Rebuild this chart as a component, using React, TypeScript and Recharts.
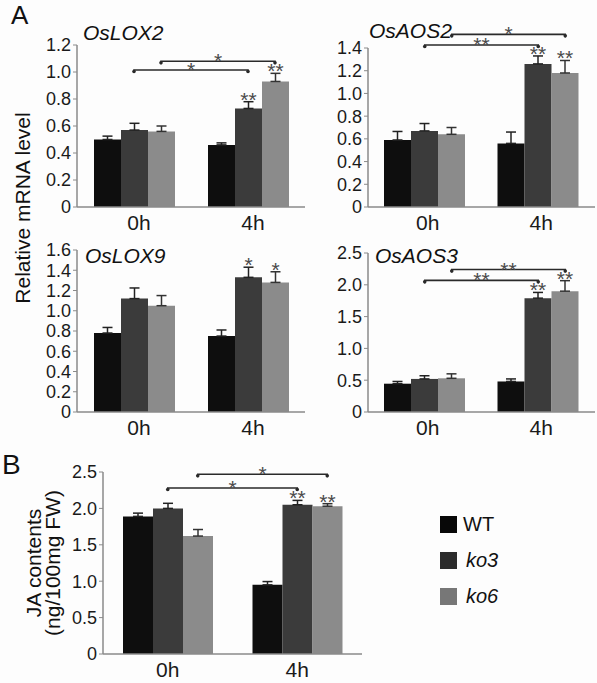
import { BarChart, Bar, XAxis, YAxis, ErrorBar, LabelList, ReferenceLine } from 'recharts';

const times = ['0h', '4h'];

// OsLOX2
const lox2Wt = [0.5, 0.46];
const lox2WtErr = [0.025, 0.015];
const lox2Ko3 = [0.57, 0.73];
const lox2Ko3Err = [0.05, 0.05];
const lox2Ko6 = [0.56, 0.93];
const lox2Ko6Err = [0.04, 0.06];
const lox2Ko3Sig = ['', '**'];
const lox2Ko6Sig = ['', '**'];
const lox2Ticks = [0, 0.2, 0.4, 0.6, 0.8, 1.0, 1.2];

// OsAOS2
const aos2Wt = [0.59, 0.56];
const aos2WtErr = [0.075, 0.1];
const aos2Ko3 = [0.67, 1.26];
const aos2Ko3Err = [0.065, 0.07];
const aos2Ko6 = [0.64, 1.18];
const aos2Ko6Err = [0.06, 0.11];
const aos2Ko3Sig = ['', '**'];
const aos2Ko6Sig = ['', '**'];
const aos2Ticks = [0, 0.2, 0.4, 0.6, 0.8, 1.0, 1.2, 1.4];

// OsLOX9
const lox9Wt = [0.78, 0.75];
const lox9WtErr = [0.055, 0.06];
const lox9Ko3 = [1.12, 1.33];
const lox9Ko3Err = [0.105, 0.1];
const lox9Ko6 = [1.05, 1.28];
const lox9Ko6Err = [0.1, 0.105];
const lox9Ko3Sig = ['', '*'];
const lox9Ko6Sig = ['', '*'];
const lox9Ticks = [0, 0.2, 0.4, 0.6, 0.8, 1.0, 1.2, 1.4, 1.6];

// OsAOS3
const aos3Wt = [0.445, 0.48];
const aos3WtErr = [0.035, 0.04];
const aos3Ko3 = [0.52, 1.79];
const aos3Ko3Err = [0.05, 0.09];
const aos3Ko6 = [0.53, 1.9];
const aos3Ko6Err = [0.07, 0.165];
const aos3Ko3Sig = ['', '**'];
const aos3Ko6Sig = ['', '**'];
const aos3Ticks = [0, 0.5, 1.0, 1.5, 2.0, 2.5];

// JA contents
const jaWt = [1.89, 0.95];
const jaWtErr = [0.045, 0.045];
const jaKo3 = [2.0, 2.05];
const jaKo3Err = [0.07, 0.06];
const jaKo6 = [1.62, 2.03];
const jaKo6Err = [0.09, 0.035];
const jaKo3Sig = ['', '**'];
const jaKo6Sig = ['', '**'];
const jaTicks = [0, 0.5, 1.0, 1.5, 2.0, 2.5];

type Bracket = { series: 'ko3' | 'ko6'; y: number; label: string };

const lox2Brackets: Bracket[] = [
  { series: 'ko3', y: 1.015, label: '*' },
  { series: 'ko6', y: 1.08, label: '*' },
];
const aos2Brackets: Bracket[] = [
  { series: 'ko3', y: 1.426, label: '**' },
  { series: 'ko6', y: 1.52, label: '*' },
];
const aos3Brackets: Bracket[] = [
  { series: 'ko3', y: 2.07, label: '**' },
  { series: 'ko6', y: 2.24, label: '**' },
];
const jaBrackets: Bracket[] = [
  { series: 'ko3', y: 2.28, label: '*' },
  { series: 'ko6', y: 2.47, label: '*' },
];

const colors = { wt: '#0e0e0e', ko3: '#3b3b3b', ko6: '#8b8b8b' };
const axisColor = '#8a8a8a';

function makeRows(
  wt: number[], wtErr: number[],
  ko3: number[], ko3Err: number[],
  ko6: number[], ko6Err: number[],
  ko3Sig: string[], ko6Sig: string[],
) {
  return times.map((t, i) => ({
    time: t,
    wt: wt[i], wtErr: [0, wtErr[i]],
    ko3: ko3[i], ko3Err: [0, ko3Err[i]],
    ko6: ko6[i], ko6Err: [0, ko6Err[i]],
    ko3Sig: ko3Sig[i], ko6Sig: ko6Sig[i],
  }));
}

const fmt = (v: number) => (v === 0 ? '0' : v.toFixed(1));

const starContent = (rows: any[], key: 'ko3' | 'ko6') => (p: any) => {
  const vb = p.viewBox ?? p;
  const sig = p.value;
  if (!sig) return null;
  const row = rows[p.index];
  const perUnit = vb.height / row[key];
  const top = vb.y - row[key + 'Err'][1] * perUnit;
  return (
    <text x={vb.x + vb.width / 2} y={top + 5} textAnchor="middle" fontSize={21} fill="#4a4a4a">
      {sig}
    </text>
  );
};

const bracketShape = (b: Bracket, barSize: number) => (p: any) => {
  const off = b.series === 'ko6' ? barSize : 0;
  const x1 = p.x1 + off;
  const x2 = p.x2 + off;
  const y = p.y1;
  return (
    <g>
      <path
        d={`M${x1},${y + 3} L${x1},${y} L${x2},${y} L${x2},${y + 3}`}
        stroke="#2a2a2a"
        strokeWidth={1.6}
        fill="none"
      />
      <circle cx={x1} cy={y + 1.5} r={1.8} fill="#2a2a2a" />
      <circle cx={x2} cy={y + 1.5} r={1.8} fill="#2a2a2a" />
      <text x={(x1 + x2) / 2} y={y + 7} textAnchor="middle" fontSize={21} fill="#4a4a4a">
        {b.label}
      </text>
    </g>
  );
};

interface PanelProps {
  left: number;
  top: number;
  width: number;
  height: number;
  margin: { top: number; right: number; bottom: number; left: number };
  yWidth: number;
  barSize: number;
  rows: any[];
  domain: [number, number];
  ticks: number[];
  brackets: Bracket[];
  tickDx: number;
}

function Panel({ left, top, width, height, margin, yWidth, barSize, rows, domain, ticks, brackets, tickDx }: PanelProps) {
  return (
    <div style={{ position: 'absolute', left, top }}>
      <BarChart width={width} height={height} data={rows} margin={margin} barGap={0} barSize={barSize}>
        <XAxis
          dataKey="time"
          height={30}
          interval={0}
          tickLine={false}
          axisLine={{ stroke: axisColor, strokeWidth: 1.5 }}
          tick={{ fontSize: 21, fill: '#1a1a1a', dx: tickDx }}
        />
        <YAxis
          width={yWidth}
          domain={domain}
          ticks={ticks}
          interval={0}
          allowDataOverflow
          tickSize={4}
          tickMargin={2}
          tickFormatter={fmt}
          tickLine={{ stroke: axisColor }}
          axisLine={{ stroke: axisColor, strokeWidth: 1.5 }}
          tick={{ fontSize: 18, fill: '#1a1a1a' }}
        />
        <Bar dataKey="wt" fill={colors.wt} isAnimationActive={false}>
          <ErrorBar dataKey="wtErr" direction="y" width={5} stroke="#222" strokeWidth={1.5} />
        </Bar>
        <Bar dataKey="ko3" fill={colors.ko3} isAnimationActive={false}>
          <ErrorBar dataKey="ko3Err" direction="y" width={5} stroke="#222" strokeWidth={1.5} />
          <LabelList dataKey="ko3Sig" content={starContent(rows, 'ko3')} />
        </Bar>
        <Bar dataKey="ko6" fill={colors.ko6} isAnimationActive={false}>
          <ErrorBar dataKey="ko6Err" direction="y" width={5} stroke="#333" strokeWidth={1.5} />
          <LabelList dataKey="ko6Sig" content={starContent(rows, 'ko6')} />
        </Bar>
        {brackets.map((b, i) => (
          <ReferenceLine
            key={i}
            ifOverflow="visible"
            segment={[{ x: times[0], y: b.y }, { x: times[1], y: b.y }]}
            shape={bracketShape(b, barSize)}
          />
        ))}
      </BarChart>
    </div>
  );
}

const title: React.CSSProperties = {
  position: 'absolute',
  fontSize: 21,
  fontStyle: 'italic',
  lineHeight: 1,
  color: '#111',
  whiteSpace: 'nowrap',
};

const legendItems = [
  { name: 'WT', color: '#080808', italic: false },
  { name: 'ko3', color: '#2b2b2b', italic: true },
  { name: 'ko6', color: '#777777', italic: true },
];

export default function App() {
  const lox2Rows = makeRows(lox2Wt, lox2WtErr, lox2Ko3, lox2Ko3Err, lox2Ko6, lox2Ko6Err, lox2Ko3Sig, lox2Ko6Sig);
  const aos2Rows = makeRows(aos2Wt, aos2WtErr, aos2Ko3, aos2Ko3Err, aos2Ko6, aos2Ko6Err, aos2Ko3Sig, aos2Ko6Sig);
  const lox9Rows = makeRows(lox9Wt, lox9WtErr, lox9Ko3, lox9Ko3Err, lox9Ko6, lox9Ko6Err, lox9Ko3Sig, lox9Ko6Sig);
  const aos3Rows = makeRows(aos3Wt, aos3WtErr, aos3Ko3, aos3Ko3Err, aos3Ko6, aos3Ko6Err, aos3Ko3Sig, aos3Ko6Sig);
  const jaRows = makeRows(jaWt, jaWtErr, jaKo3, jaKo3Err, jaKo6, jaKo6Err, jaKo3Sig, jaKo6Sig);

  return (
    <div
      style={{
        position: 'fixed',
        left: 0,
        top: 0,
        width: 597,
        height: 683,
        background: '#fdfdfd',
        fontFamily: '"Liberation Sans", Arial, sans-serif',
        color: '#111',
        overflow: 'hidden',
      }}
    >
      <Panel left={0} top={0} width={310} height={240} margin={{ top: 45, right: 5, left: 0, bottom: 3 }}
        yWidth={77} barSize={27} rows={lox2Rows} domain={[0, 1.2]} ticks={lox2Ticks} brackets={lox2Brackets} tickDx={5} />
      <Panel left={290} top={0} width={307} height={240} margin={{ top: 48, right: 2, left: 0, bottom: 3 }}
        yWidth={78} barSize={27} rows={aos2Rows} domain={[0, 1.4]} ticks={aos2Ticks} brackets={aos2Brackets} tickDx={3} />
      <Panel left={0} top={225} width={310} height={225} margin={{ top: 25, right: 5, left: 0, bottom: 8 }}
        yWidth={77} barSize={27} rows={lox9Rows} domain={[0, 1.6]} ticks={lox9Ticks} brackets={[]} tickDx={5} />
      <Panel left={290} top={225} width={307} height={225} margin={{ top: 28, right: 2, left: 0, bottom: 8 }}
        yWidth={78} barSize={27} rows={aos3Rows} domain={[0, 2.5]} ticks={aos3Ticks} brackets={aos3Brackets} tickDx={3} />
      <Panel left={0} top={450} width={370} height={234} margin={{ top: 22, right: 8, left: 0, bottom: 0 }}
        yWidth={103} barSize={30} rows={jaRows} domain={[0, 2.5]} ticks={jaTicks} brackets={jaBrackets} tickDx={0} />

      <div style={{ position: 'absolute', left: 11, top: 2, fontSize: 26, lineHeight: 1 }}>A</div>
      <div style={{ position: 'absolute', left: 2, top: 451, fontSize: 28, lineHeight: 1 }}>B</div>

      <div style={{ ...title, left: 83, top: 22 }}>OsLOX2</div>
      <div style={{ ...title, left: 369, top: 20 }}>OsAOS2</div>
      <div style={{ ...title, left: 85, top: 245 }}>OsLOX9</div>
      <div style={{ ...title, left: 375, top: 245 }}>OsAOS3</div>

      <div
        style={{
          position: 'absolute',
          left: 22,
          top: 208,
          transform: 'translate(-50%, -50%) rotate(-90deg)',
          fontSize: 21,
          whiteSpace: 'nowrap',
          lineHeight: 1,
        }}
      >
        Relative mRNA level
      </div>
      <div
        style={{
          position: 'absolute',
          left: 43,
          top: 563,
          transform: 'translate(-50%, -50%) rotate(-90deg)',
          fontSize: 21,
          whiteSpace: 'nowrap',
          lineHeight: '19px',
          textAlign: 'center',
        }}
      >
        JA contents
        <br />
        (ng/100mg FW)
      </div>

      {legendItems.map((it, i) => (
        <div key={it.name} style={{ position: 'absolute', left: 440, top: 516 + i * 36, display: 'flex', alignItems: 'center' }}>
          <div style={{ width: 17, height: 17, background: it.color }} />
          <span style={{ marginLeft: it.italic ? 9 : 6, fontSize: 20, fontStyle: it.italic ? 'italic' : 'normal', lineHeight: '17px' }}>
            {it.name}
          </span>
        </div>
      ))}
    </div>
  );
}
